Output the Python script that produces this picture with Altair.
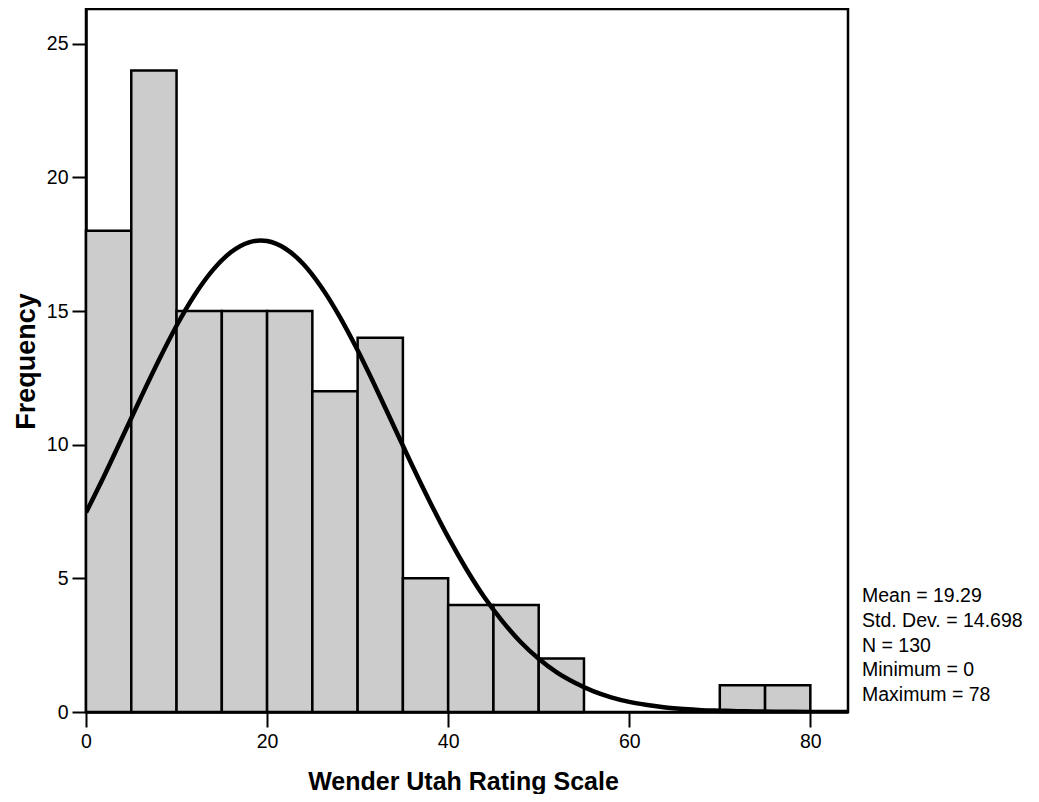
import altair as alt
import pandas as pd

# Histogram bins (Wender Utah Rating Scale), width 5
bin_start = [0, 5, 10, 15, 20, 25, 30, 35, 40, 45, 50, 70, 75]
bin_end = [5, 10, 15, 20, 25, 30, 35, 40, 45, 50, 55, 75, 80]
counts = [18, 24, 15, 15, 15, 12, 14, 5, 4, 4, 2, 1, 1]

# Fitted normal curve
curve_x = [0, 2, 4, 6, 8, 10, 12, 14, 16, 18, 19.3, 20, 22, 24, 26, 28, 30, 32, 34,
           36, 38, 40, 42, 44, 46, 48, 50, 52, 54, 56, 58, 60, 62, 64, 66, 68, 70,
           72, 74, 76, 78, 80, 84.16]
curve_y = [7.46, 8.83, 10.27, 11.72, 13.13, 14.45, 15.60, 16.53, 17.20, 17.57, 17.64,
           17.62, 17.34, 16.76, 15.89, 14.80, 13.53, 12.14, 10.69, 9.24, 7.85, 6.54,
           5.35, 4.29, 3.39, 2.62, 1.99, 1.48, 1.09, 0.78, 0.55, 0.38, 0.26, 0.17,
           0.11, 0.07, 0.05, 0.03, 0.02, 0.01, 0.005, 0.0, 0.0]

x_ticks = [0, 20, 40, 60, 80]
y_ticks = [0, 5, 10, 15, 20, 25]

stats_lines = ["Mean = 19.29", "Std. Dev. = 14.698", "N = 130", "Minimum = 0", "Maximum = 78"]

bars_df = pd.DataFrame({"start": bin_start, "end": bin_end, "count": counts})
curve_df = pd.DataFrame({"x": curve_x, "y": curve_y})

FONT = "Liberation Sans"
X_DOMAIN = [0, 84.16]
Y_DOMAIN = [0, 26.30]

x_scale = alt.Scale(domain=X_DOMAIN, nice=False, zero=False)
y_scale = alt.Scale(domain=Y_DOMAIN, nice=False)

x_axis = alt.Axis(
    values=x_ticks, title="Wender Utah Rating Scale", grid=False,
    tickSize=15, tickWidth=2, tickColor="black",
    domainColor="black", domainWidth=2.5, labelFlush=False,
    labelFont=FONT, labelFontSize=19.5, labelColor="black", labelPadding=5,
    titleFont=FONT, titleFontSize=25, titleFontWeight="bold", titleColor="black",
    titleX=377, titleY=77, titleAlign="center", titleBaseline="alphabetic",
)
y_axis = alt.Axis(
    values=y_ticks, title="Frequency", grid=False,
    tickSize=14, tickWidth=2, tickColor="black",
    domainColor="black", domainWidth=2.5, labelFlush=False,
    labelFont=FONT, labelFontSize=19.5, labelColor="black", labelPadding=4,
    titleFont=FONT, titleFontSize=27, titleFontWeight="bold", titleColor="black",
    titleX=-60, titleY=352, titleAngle=270, titleAlign="center", titleBaseline="middle",
)

bars = alt.Chart(bars_df).mark_rect(
    fill="#cccccc", stroke="black", strokeWidth=2.5, opacity=1
).encode(
    x=alt.X("start:Q", scale=x_scale, axis=x_axis),
    x2="end:Q",
    y=alt.Y("count:Q", scale=y_scale, axis=y_axis),
    y2=alt.datum(0),
)

curve = alt.Chart(curve_df).mark_line(
    color="black", strokeWidth=4.5, interpolate="monotone", clip=True
).encode(
    x=alt.X("x:Q", scale=x_scale),
    y=alt.Y("y:Q", scale=y_scale),
)

layers = [bars, curve]
for i, line in enumerate(stats_lines):
    layers.append(
        alt.Chart(pd.DataFrame({"t": [line]})).mark_text(
            align="left", baseline="alphabetic", font=FONT, fontSize=19.5, color="black"
        ).encode(
            text="t:N",
            x=alt.value(776),
            y=alt.value(593 + i * 24.75),
        )
    )

chart = alt.layer(*layers).properties(
    width=762, height=703,
    padding={"left": 78, "top": 1, "right": 183, "bottom": 82},
    autosize=alt.AutoSizeParams(type="none"),
).configure(
    background="white",
    view=alt.ViewConfig(stroke="black", strokeWidth=2.5),
)

chart.save("out.html", embed_options={"renderer": "svg", "actions": False})
